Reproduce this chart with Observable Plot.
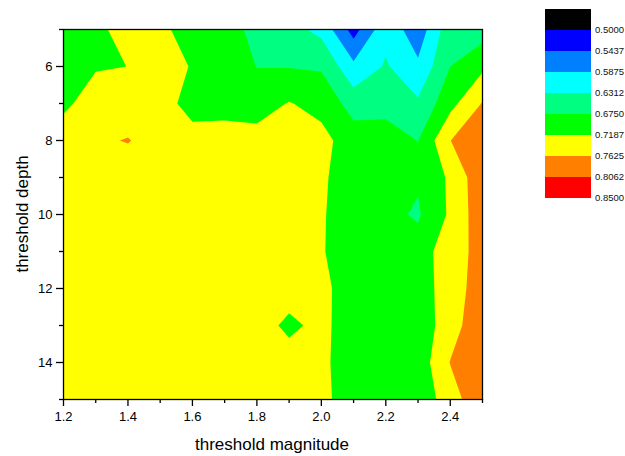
<!DOCTYPE html>
<html><head><meta charset="utf-8">
<script src="https://cdn.jsdelivr.net/npm/d3@7"></script>
<script src="https://cdn.jsdelivr.net/npm/@observablehq/plot@0.6"></script>
<style>
body{margin:0;background:#fff;}
#chart{position:relative;width:625px;height:456px;}
</style>
</head><body><div id="chart"></div>
<script>
// threshold magnitude (columns) and threshold depth (rows)
const magnitudes = [1.2,1.3,1.4,1.5,1.6,1.7,1.8,1.9,2.0,2.1,2.2,2.3,2.4,2.5];
const depths = [5,6,7,8,9,10,11,12,13,14,15];
// one row per depth, one value per magnitude
const depth5  = [0.690,0.705,0.7415,0.728,0.700,0.7037,0.655,0.646,0.6192,0.526,0.619,0.560,0.660,0.655];
const depth6  = [0.690,0.7136,0.719,0.745,0.715,0.700,0.674,0.673,0.670,0.5975,0.6357,0.596,0.675,0.710];
const depth7  = [0.705,0.750,0.735,0.740,0.6998,0.705,0.700,0.721,0.705,0.657,0.660,0.638,0.705,0.765];
const depth8  = [0.755,0.755,0.765,0.740,0.738,0.735,0.7346,0.740,0.732,0.696,0.695,0.674,0.762,0.790];
const depth9  = [0.750,0.745,0.735,0.740,0.742,0.745,0.740,0.738,0.724,0.700,0.697,0.680,0.726,0.795];
const depth10 = [0.748,0.744,0.742,0.745,0.748,0.746,0.742,0.738,0.722,0.700,0.686,0.670,0.7257,0.791];
const depth11 = [0.745,0.747,0.745,0.748,0.750,0.745,0.740,0.735,0.7213,0.700,0.697,0.691,0.750,0.772];
const depth12 = [0.742,0.745,0.748,0.750,0.747,0.745,0.742,0.740,0.728,0.700,0.698,0.690,0.747,0.778];
const depth13 = [0.745,0.748,0.750,0.748,0.745,0.742,0.740,0.708,0.732,0.690,0.695,0.690,0.744,0.794];
const depth14 = [0.748,0.750,0.748,0.745,0.747,0.745,0.743,0.740,0.726,0.700,0.697,0.692,0.764,0.790];
const depth15 = [0.750,0.748,0.745,0.747,0.748,0.746,0.744,0.742,0.728,0.700,0.698,0.690,0.741,0.799];
const rows = [depth5,depth6,depth7,depth8,depth9,depth10,depth11,depth12,depth13,depth14,depth15];

const levels = [0.5,0.5437,0.5875,0.6312,0.675,0.7187,0.7625,0.8062,0.85];
const levelLabels = ["0.5000","0.5437","0.5875","0.6312","0.6750","0.7187","0.7625","0.8062","0.8500"];
const levelColors = ["#000000","#0000ff","#0080ff","#00ffff","#00ff80","#00ff00","#ffff00","#ff8000","#ff0000"];

const xTicks = [1.2,1.4,1.6,1.8,2.0,2.2,2.4];
const xMinor = [1.3,1.5,1.7,1.9,2.1,2.3,2.5];
const yTicks = [6,8,10,12,14];
const yMinor = [5,7,9,11,13,15];

const values = rows.flat();
const dx = magnitudes[1]-magnitudes[0];
const dy = depths[1]-depths[0];
const font = "'Liberation Sans', Arial, Helvetica, sans-serif";

const plot = Plot.plot({
  width: 625, height: 456,
  marginLeft: 63, marginRight: 143, marginTop: 29, marginBottom: 57,
  style: {fontFamily: font, fontSize: "13px", color: "#000", background: "#fff"},
  x: {domain: [magnitudes[0], magnitudes[magnitudes.length-1]]},
  y: {domain: [depths[0], depths[depths.length-1]], reverse: true},
  color: {type: "threshold", domain: levels, range: [...levelColors, levelColors[levelColors.length-1]]},
  marks: [
    Plot.contour(values, {
      width: magnitudes.length, height: depths.length,
      x1: magnitudes[0]-dx/2, x2: magnitudes[magnitudes.length-1]+dx/2,
      y1: depths[0]-dy/2, y2: depths[depths.length-1]+dy/2,
      fill: Plot.identity, thresholds: levels, stroke: "none", clip: true
    }),
    Plot.frame({stroke: "#000", strokeWidth: 1.3}),
    Plot.axisX(xTicks, {tickSize: 7, tickPadding: 5, tickFormat: d3.format(".1f"), label: null, strokeWidth: 1.3, fontSize: 13}),
    Plot.axisX(xMinor, {tickSize: 4, tickFormat: () => "", label: null, strokeWidth: 1.3}),
    Plot.axisY(yTicks, {tickSize: 7, tickPadding: 4, tickFormat: d3.format("d"), label: null, strokeWidth: 1.3, fontSize: 13}),
    Plot.axisY(yMinor, {tickSize: 4, tickFormat: () => "", label: null, strokeWidth: 1.3})
  ]
});

const svg = d3.select(plot);
// axis titles
svg.append("text").attr("x", 272).attr("y", 450).attr("text-anchor", "middle")
  .attr("font-family", font).attr("font-size", 17).attr("fill", "#000").text("threshold magnitude");
svg.append("text").attr("transform", "translate(28,214) rotate(-90)").attr("text-anchor", "middle")
  .attr("font-family", font).attr("font-size", 17).attr("fill", "#000").text("threshold depth");

// legend
const lg = svg.append("g").attr("text-anchor", "start");
levelColors.forEach((c, i) => {
  lg.append("rect").attr("x", 545).attr("y", 9 + i*21).attr("width", 46).attr("height", 21).attr("fill", c);
});
levelLabels.forEach((t, i) => {
  lg.append("text").attr("x", 595).attr("y", 30 + i*21).attr("dy", "0.35em").attr("text-anchor", "start")
    .attr("font-family", font).attr("font-size", 9.5).attr("fill", "#111").text(t);
});

document.getElementById("chart").appendChild(plot);
</script>
</body></html>
